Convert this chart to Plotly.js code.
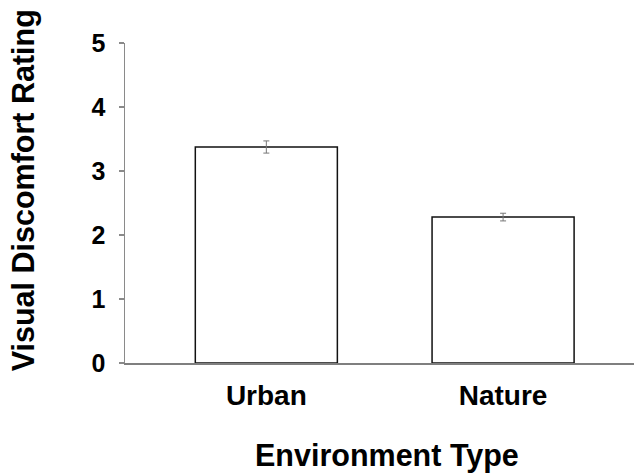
<!DOCTYPE html>
<html>
<head>
<meta charset="utf-8">
<script src="https://cdn.plot.ly/plotly-3.0.1.min.js"></script>
<style>html,body{margin:0;padding:0;background:#fff;}#chart{width:634px;height:475px;}</style>
</head>
<body>
<div id="chart"></div>
<script>
var categories = ["Urban", "Nature"];
var ratings = [3.375, 2.28];
var errors = [0.095, 0.06];
var yTicks = [0, 1, 2, 3, 4, 5];
var xTitle = "Environment Type";
var yTitle = "Visual Discomfort Rating";

var font = "Liberation Sans, Arial, sans-serif";

var trace = {
  type: "bar",
  x: categories,
  y: ratings,
  width: 0.6,
  marker: {color: "#ffffff", line: {color: "#111111", width: 1.5}},
  error_y: {type: "data", array: errors, visible: true, color: "#777777", thickness: 1, width: 3},
  hoverinfo: "none"
};

var layout = {
  width: 634,
  height: 475,
  margin: {l: 125, r: 0, t: 43, b: 112, pad: 0},
  paper_bgcolor: "#ffffff",
  plot_bgcolor: "#ffffff",
  showlegend: false,
  xaxis: {
    type: "category",
    range: [-0.597, 1.553],
    showgrid: false,
    zeroline: false,
    showline: true,
    linecolor: "#7f7f7f",
    linewidth: 2,
    ticks: "",
    ticklabelstandoff: 6,
    tickfont: {family: font, size: 28, weight: "bold", color: "#000000"},
    fixedrange: true
  },
  yaxis: {
    range: [0, 5],
    tickvals: yTicks,
    ticktext: yTicks.map(String),
    showgrid: false,
    zeroline: false,
    showline: true,
    linecolor: "#8a8a8a",
    linewidth: 1.5,
    ticks: "outside",
    ticklen: 5,
    tickwidth: 1.5,
    tickcolor: "#8a8a8a",
    ticklabelstandoff: 8,
    tickfont: {family: font, size: 25, weight: "bold", color: "#000000"},
    fixedrange: true
  },
  annotations: [
    {text: yTitle, xref: "paper", yref: "paper", x: (23 - 125) / 509, y: (362.7 - 190) / 320,
     xanchor: "center", yanchor: "middle", textangle: -90, showarrow: false,
     font: {family: font, size: 30.5, weight: "bold", color: "#000000"}},
    {text: xTitle, xref: "paper", yref: "paper", x: (386.5 - 125) / 509, y: (362.7 - 455) / 320,
     xanchor: "center", yanchor: "middle", showarrow: false,
     font: {family: font, size: 30.5, weight: "bold", color: "#000000"}}
  ]
};

Plotly.newPlot("chart", [trace], layout, {staticPlot: true, displayModeBar: false});
</script>
</body>
</html>
